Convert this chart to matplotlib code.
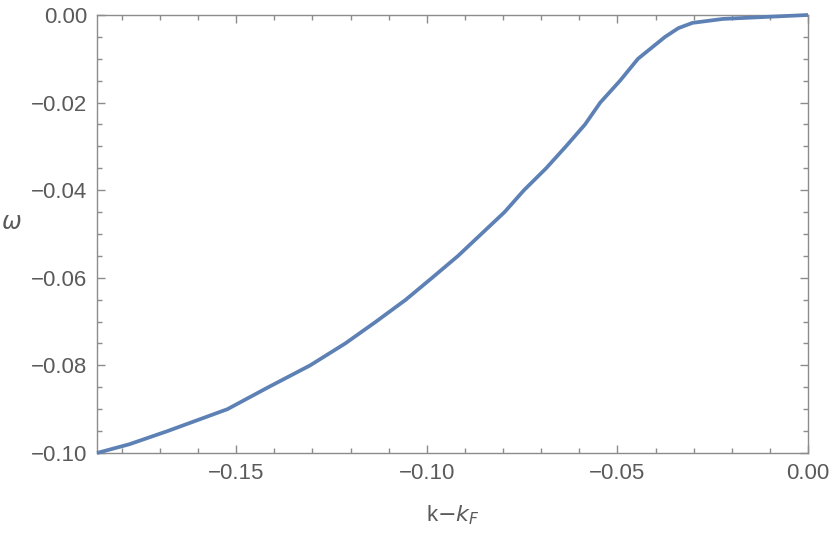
from matplotlib import pyplot as plt
from matplotlib.ticker import MultipleLocator, FuncFormatter

# points (k - kF, omega)
k_minus_kf = [-0.1865, -0.1780, -0.1680, -0.1523, -0.1416, -0.1306, -0.1214, -0.1133,
              -0.1055, -0.0986, -0.0918, -0.0857, -0.0796, -0.0745, -0.0687, -0.0635,
              -0.0585, -0.0545, -0.0493, -0.0446, -0.0375, -0.0340, -0.0303, -0.0223,
              -0.0100, 0.0]
omega = [-0.100, -0.098, -0.095, -0.090, -0.085, -0.080, -0.075, -0.070,
         -0.065, -0.060, -0.055, -0.050, -0.045, -0.040, -0.035, -0.030,
         -0.025, -0.020, -0.015, -0.010, -0.005, -0.003, -0.0018, -0.0009,
         -0.0004, 0.0]

frame_col = '#8c8c8c'
text_col = '#5a5a5a'
plt.rcParams['font.family'] = ['Liberation Sans', 'DejaVu Sans']


def fmt(v, pos):
    if abs(v) < 1e-9:
        return '0.00'
    return ('%.2f' % v).replace('-', '\u2212')


fig = plt.figure(figsize=(8.3, 5.35), dpi=100)
ax = fig.add_axes([0.1169, 0.1533, 0.8566, 0.8187])

ax.plot(k_minus_kf, omega, color='#5e81b5', lw=2.7, solid_capstyle='butt', clip_on=False, zorder=3)

ax.set_xlim(-0.1865, 0.0)
ax.set_ylim(-0.10, 0.0)

ax.xaxis.set_major_locator(MultipleLocator(0.05))
ax.xaxis.set_minor_locator(MultipleLocator(0.01))
ax.yaxis.set_major_locator(MultipleLocator(0.02))
ax.yaxis.set_minor_locator(MultipleLocator(0.005))
ax.xaxis.set_major_formatter(FuncFormatter(fmt))
ax.yaxis.set_major_formatter(FuncFormatter(fmt))

ax.tick_params(which='both', direction='in', top=True, right=True, color=frame_col,
               width=1.0, labelcolor=text_col, labelsize=16)
ax.tick_params(which='major', length=6, pad=7)
ax.tick_params(which='minor', length=3.5)
for s in ax.spines.values():
    s.set_color(frame_col)
    s.set_linewidth(1.0)

ax.set_xlabel(r'k$-$$k_F$', color=text_col, fontsize=16, labelpad=14)
ax.set_ylabel(r'$\omega$', color=text_col, fontsize=17, rotation=0, labelpad=14)
ax.yaxis.set_label_coords(-0.12, 0.5)

fig.savefig('out.png', dpi=100)
